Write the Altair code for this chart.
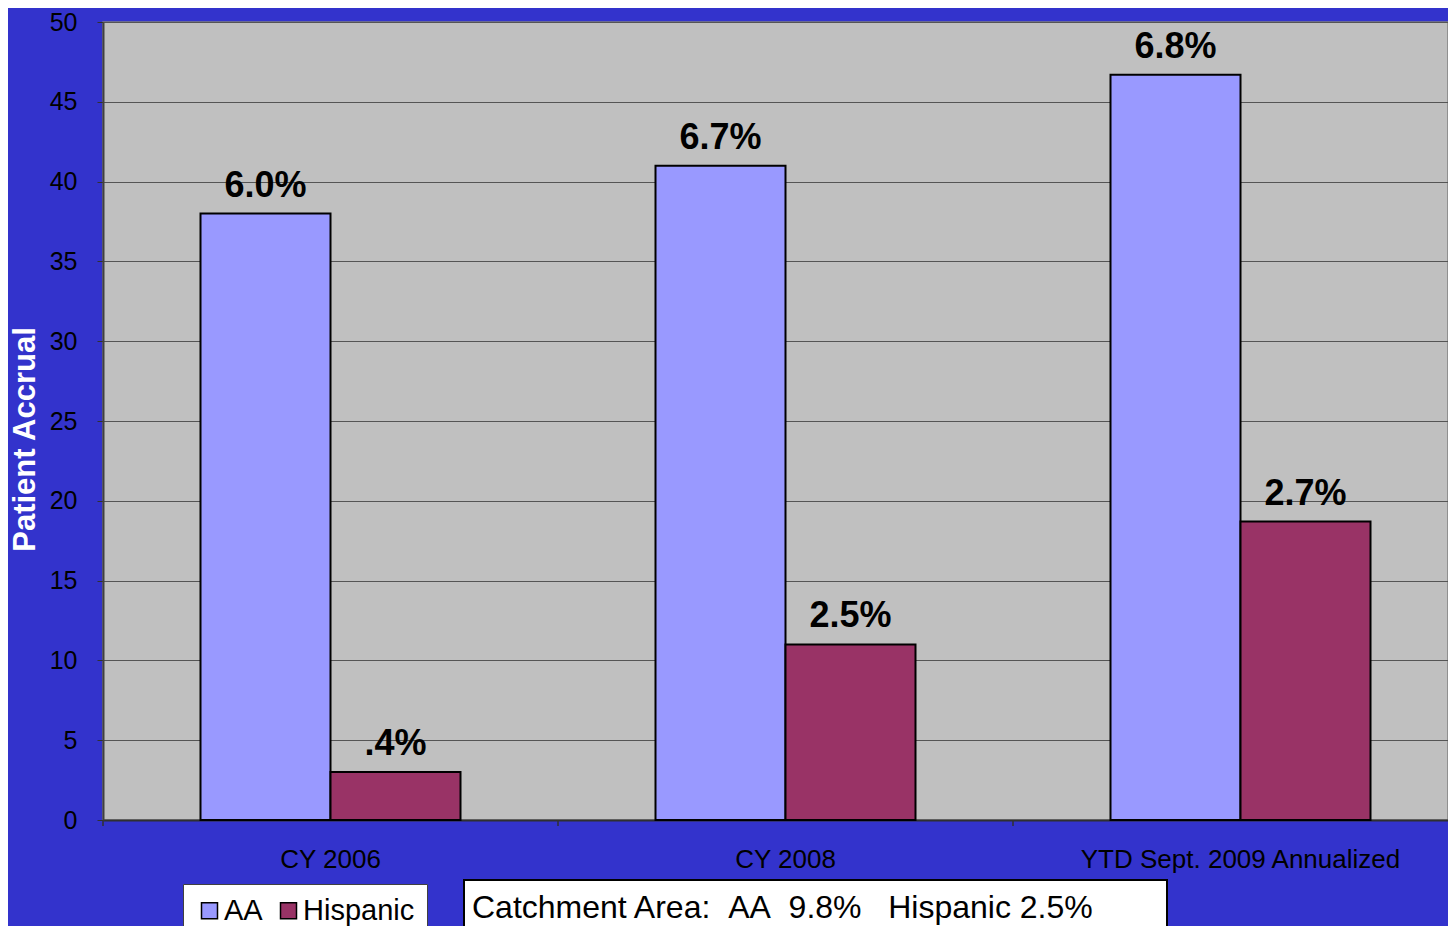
import altair as alt
import pandas as pd

categories = ["CY 2006", "CY 2008", "YTD Sept. 2009 Annualized"]
series = ["AA", "Hispanic"]
aa_values = [38, 41, 46.7]
hispanic_values = [3, 11, 18.7]
aa_labels = ["6.0%", "6.7%", "6.8%"]
hispanic_labels = [".4%", "2.5%", "2.7%"]
y_ticks = [0, 5, 10, 15, 20, 25, 30, 35, 40, 45, 50]
note_text = ["Catchment Area:\u00a0\u00a0AA\u00a0\u00a09.8%\u00a0\u00a0\u00a0Hispanic 2.5%"]

rows = []
for i, c in enumerate(categories):
    rows.append({"cat": c, "series": "AA", "value": aa_values[i], "label": aa_labels[i]})
    rows.append({"cat": c, "series": "Hispanic", "value": hispanic_values[i], "label": hispanic_labels[i]})
df = pd.DataFrame(rows)
cat_df = pd.DataFrame({"cat": categories})
note_df = pd.DataFrame({"note": note_text})

FONT = "Liberation Sans"

x_scale = alt.Scale(domain=categories, range=[0, 1365], paddingInner=0, paddingOuter=0)
xoff_scale = alt.Scale(domain=series, paddingInner=0, paddingOuter=0.75)
color_scale = alt.Scale(domain=series, range=["#9999FF", "#993366"])

x_enc = alt.X("cat:N", scale=x_scale, sort=categories,
              axis=alt.Axis(title=None, ticks=False, tickSize=0, labelPadding=26,
                            labelFontSize=26, labelFont=FONT, labelColor="black",
                            domainColor="#303030", domainWidth=2, grid=False,
                            labelAngle=0, labelLimit=500))
y_enc = alt.Y("value:Q", scale=alt.Scale(domain=[0, 50], nice=False, zero=True),
              axis=alt.Axis(title="Patient Accrual", values=y_ticks,
                            titleFont=FONT, titleFontSize=31, titleFontWeight="bold",
                            titleColor="white", titleX=-62, titleY=417,
                            labelFont=FONT, labelFontSize=25, labelColor="black",
                            labelPadding=20, tickSize=6, tickColor="#303030",
                            domainColor="#404040", domainWidth=2,
                            grid=True, gridColor="#555555", gridWidth=1.2))

bars = alt.Chart(df).mark_bar(stroke="black", strokeWidth=2).encode(
    x=x_enc,
    xOffset=alt.XOffset("series:N", scale=xoff_scale, sort=series),
    y=y_enc,
    color=alt.Color("series:N", scale=color_scale, sort=series,
                    legend=alt.Legend(title=None, orient="none", legendX=80, legendY=862,
                                      direction="horizontal", columns=2,
                                      fillColor="white", strokeColor="#404040",
                                      padding=12, symbolType="square", symbolSize=256,
                                      symbolStrokeColor="black", symbolStrokeWidth=1.5,
                                      labelFont=FONT, labelFontSize=29, labelColor="black",
                                      labelOffset=0, columnPadding=11)),
)

texts = alt.Chart(df).mark_text(font=FONT, fontSize=36, fontWeight="bold", color="black",
                                baseline="alphabetic", dy=-17).encode(
    x=alt.X("cat:N", scale=x_scale, sort=categories),
    xOffset=alt.XOffset("series:N", scale=xoff_scale, sort=series),
    y=alt.Y("value:Q"),
    text="label:N",
)

ticks = alt.Chart(cat_df).mark_rule(color="#303030", strokeWidth=1.5).encode(
    x=alt.X("cat:N", scale=x_scale, sort=categories, bandPosition=0),
    y=alt.value(798),
    y2=alt.value(804),
)

note_box = alt.Chart(note_df).mark_rect(fill="white", stroke="black", strokeWidth=2).encode(
    x=alt.value(361), x2=alt.value(1064), y=alt.value(858), y2=alt.value(930),
)
note = alt.Chart(note_df).mark_text(font=FONT, fontSize=32, color="black",
                                    align="left", baseline="middle").encode(
    x=alt.value(369), y=alt.value(886), text="note:N",
)

chart = alt.layer(bars, texts, ticks, note_box, note).properties(
    width=1345, height=798,
    autosize=alt.AutoSizeParams(type="none"),
    padding={"left": 95, "top": 14, "right": 0, "bottom": 106},
    background="#3333CC",
).configure_view(
    fill="#C0C0C0", stroke="#808080", strokeWidth=1.5,
)

chart.save("out.html", embed_options={"renderer": "svg", "actions": False})
